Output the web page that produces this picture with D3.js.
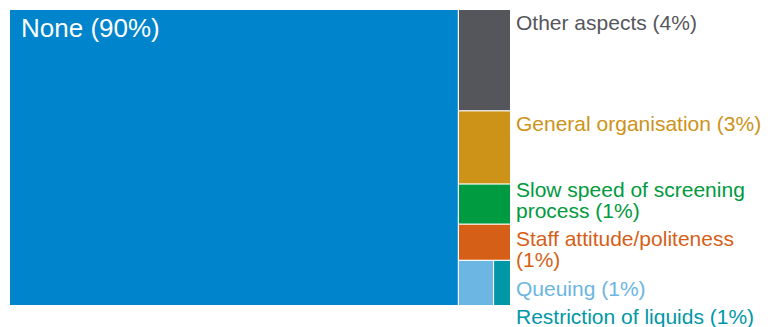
<!DOCTYPE html>
<html>
<head>
<meta charset="utf-8">
<script src="https://cdn.jsdelivr.net/npm/d3@7"></script>
<style>
  html, body { margin: 0; padding: 0; background: #fff; }
  svg { display: block; font-family: "Liberation Sans", Arial, sans-serif; }
</style>
</head>
<body>
<svg id="chart" width="780" height="327"></svg>
<script>
// ---- data ----
const categories = [
  "None",
  "Other aspects",
  "General organisation",
  "Slow speed of screening process",
  "Staff attitude/politeness",
  "Queuing",
  "Restriction of liquids"
];
const values = [89.4, 3.56, 2.57, 1.41, 1.27, 1.07, 0.52];
const percentLabels = ["90%", "4%", "3%", "1%", "1%", "1%", "1%"];
const colors = ["#0084cc", "#55565b", "#cc9318", "#009a40", "#d65f17", "#6bb6e2", "#0097a7"];

// ---- layout ----
const W = 780, H = 327;
const area = { x: 10, y: 10, w: 500, h: 295 };
const svg = d3.select("#chart");

const root = d3.hierarchy({
  children: categories.map((c, i) => ({ name: c, value: values[i], pct: percentLabels[i], color: colors[i], idx: i }))
}).sum(d => d.value || 0).sort((a, b) => b.value - a.value);

d3.treemap()
  .tile(d3.treemapSquarify.ratio(1))
  .size([area.w, area.h])
  .paddingInner(1.2)
  .round(false)(root);

const g = svg.append("g").attr("transform", `translate(${area.x},${area.y})`);
const leaves = root.leaves();

g.selectAll("rect").data(leaves).join("rect")
  .attr("x", d => d.x0).attr("y", d => d.y0)
  .attr("width", d => d.x1 - d.x0).attr("height", d => d.y1 - d.y0)
  .attr("fill", d => d.data.color);

// Big cell label inside
const big = leaves[0];
g.append("text")
  .attr("x", big.x0 + 11).attr("y", big.y0 + 27)
  .attr("fill", "#fff").attr("font-size", 26)
  .text(`${big.data.name} (${big.data.pct})`);

// Outside labels for the small cells
const small = leaves.slice(1);
const colRight = d3.max(small, d => d.x1) + area.x;
const labelX = colRight + 6;
const maxW = W - labelX - 8;
const fs = 21, lh = 20.6, step = 28.5, bottomLimit = H - 3;

const lg = svg.append("g");
const labels = small.map(d => {
  const t = lg.append("text").attr("x", labelX).attr("font-size", fs).attr("fill", d.data.color);
  const words = `${d.data.name} (${d.data.pct})`.split(" ");
  const lines = [];
  let cur = [];
  const probe = t.append("tspan");
  words.forEach(w => {
    const test = cur.concat([w]).join(" ");
    probe.text(test);
    if (probe.node().getComputedTextLength() > maxW && cur.length) {
      lines.push(cur.join(" "));
      cur = [w];
    } else cur.push(w);
  });
  lines.push(cur.join(" "));
  probe.remove();
  return { t, lines, desired: d.y0 + area.y + 19.5 };
});

// de-overlap: push down, then clamp from bottom
let prevLast = -Infinity;
labels.forEach(l => {
  l.pos = Math.max(l.desired, prevLast + step);
  prevLast = l.pos + (l.lines.length - 1) * lh;
});
let limit = bottomLimit;
for (let i = labels.length - 1; i >= 0; i--) {
  const l = labels[i];
  const span = (l.lines.length - 1) * lh;
  const last = Math.min(l.pos + span, limit);
  l.pos = last - span;
  limit = l.pos - step;
}
labels.forEach(l => {
  l.t.attr("y", l.pos);
  l.lines.forEach((ln, k) => {
    l.t.append("tspan").attr("x", labelX).attr("y", l.pos + k * lh).text(ln);
  });
});
</script>
</body>
</html>
